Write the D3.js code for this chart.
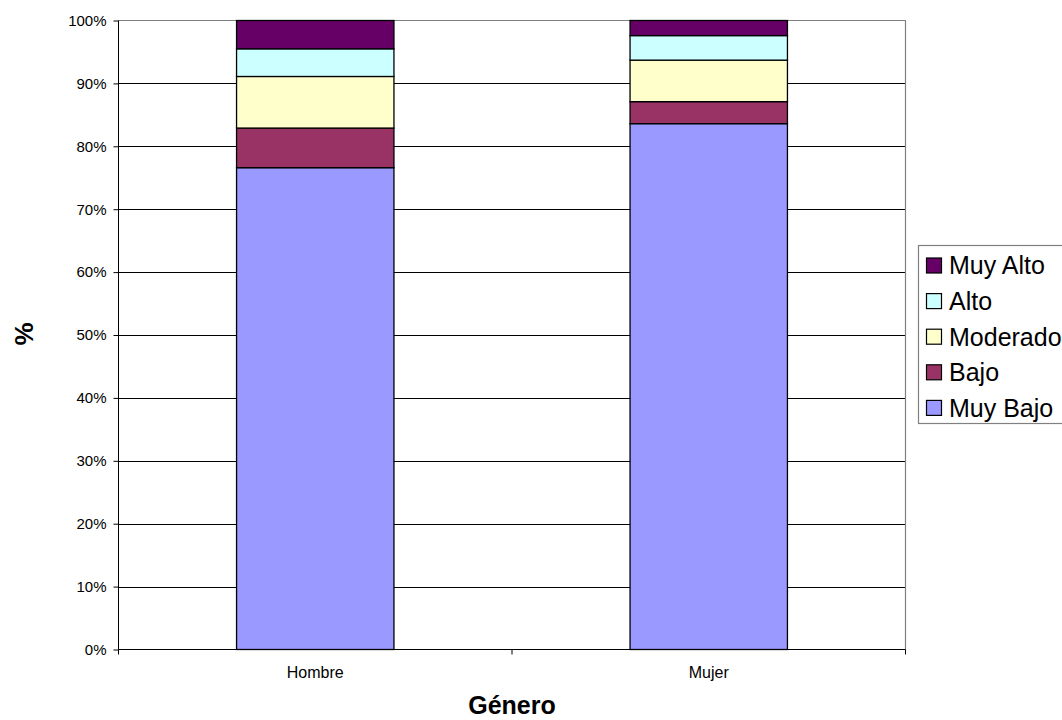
<!DOCTYPE html>
<html><head><meta charset="utf-8">
<script src="https://cdn.jsdelivr.net/npm/d3@7"></script>
<style>body{margin:0;background:#fff}svg{display:block;font-family:"Liberation Sans",Arial,sans-serif}</style>
</head><body><svg id="c" width="1062" height="720"></svg>
<script>
const categories = ["Hombre", "Mujer"];
const seriesNames = ["Muy Bajo", "Bajo", "Moderado", "Alto", "Muy Alto"];
const muyBajo = [76.6, 83.6];
const bajo = [6.3, 3.5];
const moderado = [8.2, 6.6];
const alto = [4.4, 3.9];
const muyAlto = [4.5, 2.4];
const colors = ["#9999ff", "#993366", "#ffffcc", "#ccffff", "#660066"];
const yTicks = [0,10,20,30,40,50,60,70,80,90,100];

const series = [muyBajo, bajo, moderado, alto, muyAlto];
const rows = categories.map((c,i)=>{const r={cat:c}; seriesNames.forEach((s,j)=>r[s]=series[j][i]); return r;});
const stacked = d3.stack().keys(seriesNames)(rows);

const svg = d3.select("#c");
const L=118.5, R=905.5, T=20.5, B=649.5;
const x = d3.scaleBand().domain(categories).range([L,R]).padding(0);
const y = d3.scaleLinear().domain([0,100]).range([B,T]);
const FF = "Liberation Sans, Arial, sans-serif";

// gridlines
svg.append("g").selectAll("line").data(yTicks.filter(t=>t>0 && t<100)).join("line")
  .attr("x1",L).attr("x2",R).attr("y1",d=>Math.round(y(d))+0.5).attr("y2",d=>Math.round(y(d))+0.5)
  .attr("stroke","#000").attr("stroke-width",1);
// plot border top/right gray
svg.append("path").attr("d",`M${L},${T}H${R}V${B}`).attr("fill","none").attr("stroke","#808080").attr("stroke-width",1.2);

// bars
const bw = x.bandwidth()*0.4;
svg.append("g").selectAll("g").data(stacked).join("g")
  .attr("fill",(d,i)=>colors[i])
  .selectAll("rect").data(d=>d).join("rect")
  .attr("x",d=>x(d.data.cat)+x.bandwidth()/2-bw/2)
  .attr("width",bw)
  .attr("y",d=>y(d[1]))
  .attr("height",d=>y(d[0])-y(d[1]))
  .attr("stroke","#000").attr("stroke-width",1.3);

// y axis
const yAxis = d3.axisLeft(y).tickValues(yTicks).tickFormat(d=>d+"%").tickSize(5).tickPadding(7);
const ga = svg.append("g").attr("transform",`translate(${L},0)`).call(yAxis);
ga.select(".domain").attr("stroke","#000").attr("d",`M0,${T}V${B}`);
ga.selectAll(".tick line").attr("stroke","#000");
ga.selectAll("text").attr("font-size",15).attr("fill","#000").attr("font-family",FF);

// x axis
const xAxis = d3.axisBottom(x).tickSize(0).tickPadding(17);
const gx = svg.append("g").attr("transform",`translate(0,${B})`).call(xAxis);
gx.select(".domain").attr("stroke","#000").attr("d",`M${L},0H${R}`);
gx.selectAll("text").attr("font-size",16).attr("fill","#000").attr("font-family",FF);
// x tick marks at category boundaries
svg.append("g").selectAll("line").data([L, x(categories[1]), R]).join("line")
  .attr("x1",d=>d).attr("x2",d=>d).attr("y1",B).attr("y2",B+5).attr("stroke","#000");

// axis titles
svg.append("text").attr("x",(L+R)/2).attr("y",714).attr("text-anchor","middle")
  .attr("font-size",25).attr("font-weight","bold").text("Género");
svg.append("text").attr("transform","translate(33,334) rotate(-90)").attr("text-anchor","middle")
  .attr("font-size",26).attr("font-weight","bold").text("%");

// legend
const lg = svg.append("g");
lg.append("rect").attr("x",918.5).attr("y",245.5).attr("width",160).attr("height",178)
  .attr("fill","#fff").attr("stroke","#808080").attr("stroke-width",1.2);
const legendOrder = seriesNames.slice().reverse();
const items = lg.selectAll("g").data(legendOrder).join("g")
  .attr("transform",(d,i)=>`translate(0,${265.5+i*35.6})`);
items.append("rect").attr("x",926.5).attr("y",-7.5).attr("width",15).attr("height",15)
  .attr("fill",d=>colors[seriesNames.indexOf(d)]).attr("stroke","#000").attr("stroke-width",1.2);
items.append("text").attr("x",949).attr("y",8.8).attr("font-size",25).attr("fill","#000").text(d=>d);
</script></body></html>
